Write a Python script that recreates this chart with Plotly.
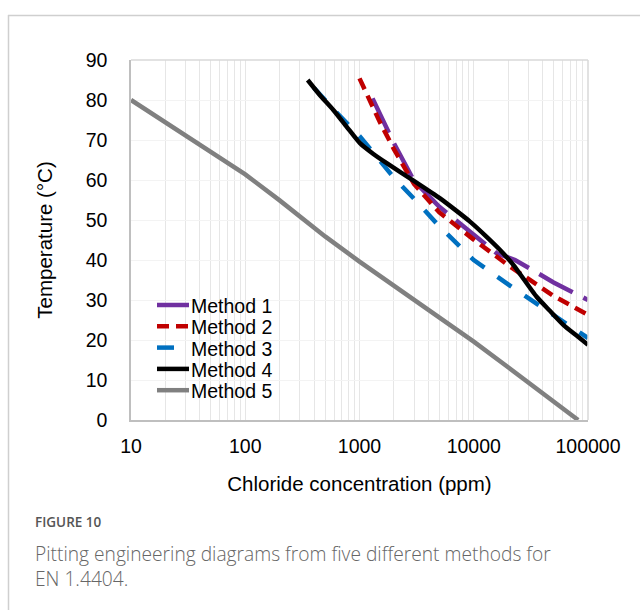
import plotly.graph_objects as go

# ---- data ----
m1_x = [1300, 2000, 3000, 5000, 10000, 16000, 23000, 50000, 100000]
m1_y = [80.4, 69.2, 59.8, 53.3, 46.3, 41.6, 40.0, 34.4, 30.0]

m2_x = [1000, 1500, 2000, 3000, 5000, 10000, 20000, 50000, 100000]
m2_y = [85.4, 74.6, 67.7, 59.0, 51.9, 45.1, 38.7, 31.0, 26.3]

m3_x = [400, 600, 1000, 1500, 2000, 3000, 5000, 10000, 20000, 50000, 100000]
m3_y = [83.0, 77.5, 71.0, 65.0, 60.6, 55.3, 48.4, 40.0, 33.9, 26.2, 20.5]

m4_x = [352, 451, 590, 773, 1009, 1322, 1730, 3060, 5070, 6620, 9270, 12970,
        17000, 22200, 35500, 46400, 60800, 79400, 100000]
m4_y = [85.0, 81.2, 77.5, 73.3, 69.2, 66.5, 64.2, 59.6, 55.4, 52.9, 49.6, 45.8,
        42.5, 38.8, 30.8, 27.3, 23.8, 21.1, 18.8]

m5_x = [10, 20, 50, 100, 200, 500, 1000, 2000, 5000, 10000, 20000, 50000, 82000]
m5_y = [80.0, 74.4, 67.0, 61.4, 54.9, 45.9, 39.6, 33.6, 25.6, 19.6, 13.2, 4.7, 0.0]

names = ["Method 1", "Method 2", "Method 3", "Method 4", "Method 5"]
colors = ["#7030A0", "#C00000", "#0070C0", "#000000", "#808080"]
dashes = ["38px,12px", "12px,7px", "17px,16px", "solid", "solid"]
shapes_ = ["linear", "linear", "linear", "spline", "linear"]

x_tick_vals = [10, 100, 1000, 10000, 100000]
x_tick_text = ["10", "100", "1000", "10000", "100000"]
y_tick_vals = [0, 10, 20, 30, 40, 50, 60, 70, 80, 90]

series = [(m1_x, m1_y), (m2_x, m2_y), (m3_x, m3_y), (m4_x, m4_y), (m5_x, m5_y)]

fig = go.Figure()
for (xs, ys), n, c, d, s in zip(series, names, colors, dashes, shapes_):
    fig.add_trace(go.Scatter(
        x=xs, y=ys, name=n, mode="lines", showlegend=False,
        line=dict(color=c, width=4.5, dash=d, shape=s, smoothing=0.6),
    ))

# all log gridline positions, label only decades
grid_vals = []
grid_text = []
for dec in [10, 100, 1000, 10000]:
    for k in range(1, 10):
        v = dec * k
        grid_vals.append(v)
        grid_text.append(x_tick_text[x_tick_vals.index(v)] if v in x_tick_vals else "")
grid_vals.append(100000)
grid_text.append("100000")

font_family = "Liberation Sans, Arial, sans-serif"

fig.update_layout(
    width=640, height=610,
    margin=dict(l=131, r=52, t=60, b=190),
    paper_bgcolor="white", plot_bgcolor="white",
    font=dict(family=font_family, color="#000000", size=19.5),
    showlegend=False,
    xaxis=dict(
        type="log", range=[1, 5],
        tickvals=grid_vals, ticktext=grid_text,
        showgrid=True, gridcolor="#e6e6e6", gridwidth=1,
        showline=True, linecolor="#bfbfbf", linewidth=1.5, mirror=False,
        ticks="", tickfont=dict(size=19.5), ticklabelstandoff=8,
        title=dict(text="Chloride concentration (ppm)", font=dict(size=20.5), standoff=20),
        zeroline=False,
    ),
    yaxis=dict(
        range=[0, 90], tickvals=y_tick_vals,
        showgrid=True, gridcolor="#f3f3f3", gridwidth=1,
        showline=True, linecolor="#bfbfbf", linewidth=1.5,
        ticks="", tickfont=dict(size=19.5), ticklabelstandoff=18,
        title=dict(text="Temperature (°C)", font=dict(size=20.5), standoff=27),
        zeroline=False,
    ),
)

W, H, L, T, PW, PH = 640, 610, 131, 60, 457, 360
def px(x):
    return (x - L) / PW
def py(y):
    return (T + PH - y) / PH

# plot-area top/right border and the card frame
fig.add_shape(type="line", xref="paper", yref="paper", x0=0, x1=1, y0=1, y1=1,
              line=dict(color="#d9d9d9", width=1.5))
fig.add_shape(type="line", xref="paper", yref="paper", x0=1, x1=1, y0=0, y1=1,
              line=dict(color="#d9d9d9", width=1.5))
fig.add_shape(type="line", xref="paper", yref="paper", x0=px(8), x1=px(660), y0=py(15.5), y1=py(15.5),
              line=dict(color="#cfcfcf", width=1.5))
fig.add_shape(type="line", xref="paper", yref="paper", x0=px(8.5), x1=px(8.5), y0=py(15), y1=py(640),
              line=dict(color="#cfcfcf", width=1.5))

# legend (drawn as line samples + labels)
for i, (n, c, d) in enumerate(zip(names, colors, dashes)):
    yy = 305 + 21.3 * i
    fig.add_shape(type="line", xref="paper", yref="paper", x0=px(157), x1=px(189),
                  y0=py(yy), y1=py(yy), line=dict(color=c, width=4.5, dash=d))
    fig.add_annotation(xref="paper", yref="paper", x=px(189), y=py(yy + 1), xanchor="left",
                       yanchor="middle", text=n, showarrow=False,
                       font=dict(family=font_family, size=19.5, color="#000000"))

fig.add_annotation(xref="paper", yref="paper", x=px(33), y=py(522), xanchor="left", yanchor="middle",
                   text="FIGURE 10", showarrow=False,
                   font=dict(family="Open Sans, sans-serif", size=13.5, color="#555555", weight=600))
fig.add_annotation(xref="paper", yref="paper", x=px(33), y=py(566), xanchor="left", yanchor="middle",
                   text="Pitting engineering diagrams from five different methods for<br>EN 1.4404.",
                   showarrow=False, align="left",
                   font=dict(family="Open Sans, sans-serif", size=19.2, color="#666666", weight=300))

fig.write_html("out.html")
